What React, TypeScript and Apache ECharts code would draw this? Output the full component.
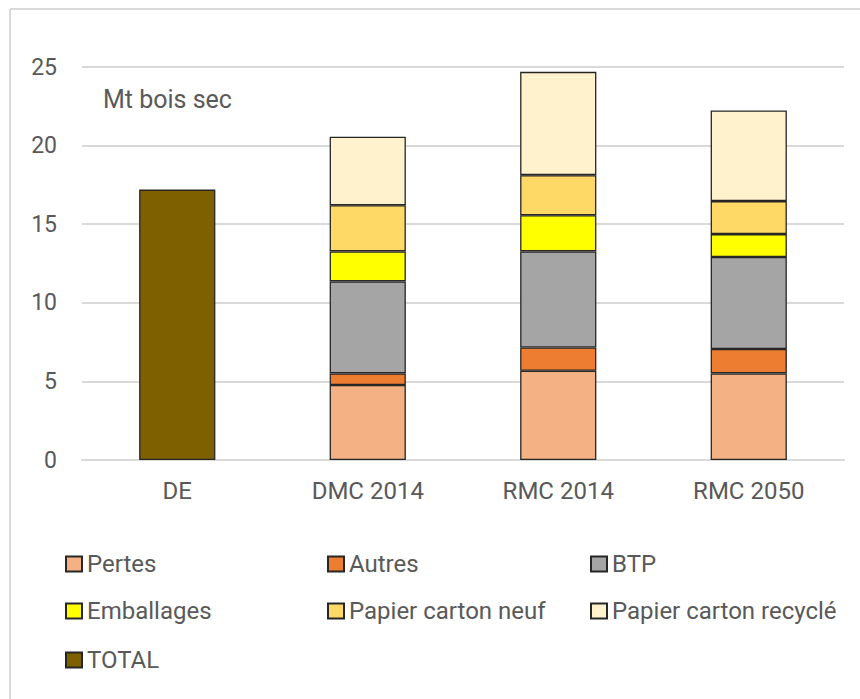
import React, { useEffect, useRef } from "react";
import * as echarts from "echarts";

const categories = ["DE", "DMC 2014", "RMC 2014", "RMC 2050"];
const pertes = [null, 4.77, 5.68, 5.51];
const autres = [null, 0.74, 1.48, 1.55];
const btp = [null, 5.85, 6.11, 5.85];
const emballages = [null, 1.91, 2.30, 1.46];
const papierNeuf = [null, 2.94, 2.55, 2.10];
const papierRecycle = [null, 4.36, 6.57, 5.76];
const total = [17.2, null, null, null];
const yTicks = { min: 0, max: 25, interval: 5 };

const seriesDefs = [
  { name: "Pertes", data: pertes, color: "#F4B183" },
  { name: "Autres", data: autres, color: "#ED7D31" },
  { name: "BTP", data: btp, color: "#A5A5A5" },
  { name: "Emballages", data: emballages, color: "#FFFF00" },
  { name: "Papier carton neuf", data: papierNeuf, color: "#FFD966" },
  { name: "Papier carton recyclé", data: papierRecycle, color: "#FFF2CC" },
  { name: "TOTAL", data: total, color: "#7F6000" },
];

const legendPos = [
  [65, 552], [327, 552], [590, 552],
  [65, 599], [327, 599], [590, 599],
  [65, 648],
];

const FONT = "Roboto, sans-serif";

export default function App() {
  const ref = useRef<HTMLDivElement>(null);
  useEffect(() => {
    if (!ref.current) return;
    const chart = echarts.init(ref.current, undefined, { renderer: "svg" });
    chart.setOption({
      animation: false,
      backgroundColor: "#ffffff",
      textStyle: { fontFamily: FONT },
      grid: { left: 82, right: 16, top: 67, bottom: 239, containLabel: false },
      xAxis: {
        type: "category",
        data: categories,
        axisLine: { lineStyle: { color: "#d9d9d9", width: 2 } },
        axisTick: { show: false },
        axisLabel: { color: "#595959", fontSize: 24, margin: 19, fontFamily: FONT },
      },
      yAxis: {
        type: "value",
        min: yTicks.min,
        max: yTicks.max,
        interval: yTicks.interval,
        axisLine: { show: false },
        axisTick: { show: false },
        splitLine: { lineStyle: { color: "#d9d9d9", width: 2 } },
        axisLabel: { color: "#595959", fontSize: 23, margin: 25, fontFamily: FONT },
      },
      legend: seriesDefs.map((s, i) => ({
        data: [s.name],
        left: legendPos[i][0],
        top: legendPos[i][1],
        padding: 0,
        icon: "rect",
        itemWidth: 16,
        itemHeight: 15,
        itemGap: 6,
        selectedMode: false,
        textStyle: { color: "#595959", fontSize: 24, fontFamily: FONT },
      })),
      graphic: [
        {
          type: "line",
          shape: { x1: 10, y1: 9, x2: 860, y2: 9 },
          style: { stroke: "#d9d9d9", lineWidth: 2 },
        },
        {
          type: "line",
          shape: { x1: 10, y1: 9, x2: 10, y2: 699 },
          style: { stroke: "#d9d9d9", lineWidth: 2 },
        },
        {
          type: "text",
          left: 103,
          top: 87,
          style: { text: "Mt bois sec", fill: "#595959", fontSize: 25, fontFamily: FONT },
        },
      ],
      series: seriesDefs.map((s) => ({
        name: s.name,
        type: "bar",
        stack: "total",
        barWidth: "40%",
        data: s.data.map((v) => (v === null ? "-" : v)),
        itemStyle: { color: s.color, borderColor: "#262626", borderWidth: 1.3 },
        emphasis: { disabled: true },
      })),
    });
    return () => chart.dispose();
  }, []);
  return (
    <div
      ref={ref}
      style={{ position: "fixed", left: 0, top: 0, width: 860, height: 699 }}
    />
  );
}
